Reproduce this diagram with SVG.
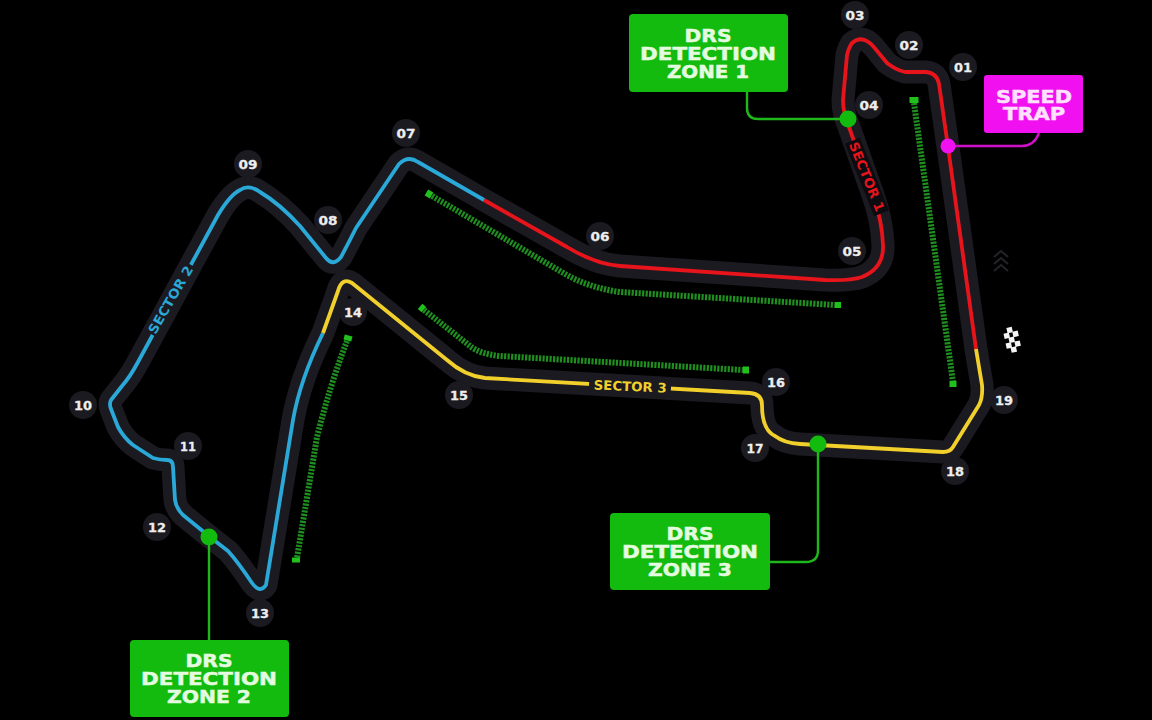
<svg xmlns="http://www.w3.org/2000/svg" width="1152" height="720" viewBox="0 0 1152 720">
<style>
.bed{fill:none;stroke:#1b1a21;stroke-width:23;stroke-linejoin:round;stroke-linecap:round}
.line{fill:none;stroke-width:3.800;stroke-linejoin:round;stroke-linecap:butt}
.red{stroke:#e8141c}.blue{stroke:#2aa9d8}.yel{stroke:#f2d02c}
.drs{fill:none;stroke:#1f8f1f;stroke-width:6;stroke-dasharray:2.200 1.300}
.cap{fill:#22c01c}
.badge circle{fill:#1b1a21}
.badge text{font:bold 13px "DejaVu Sans",sans-serif;fill:#eeeeee;text-anchor:middle;stroke:#eeeeee;stroke-width:.3}
.box text{font:bold 18px "DejaVu Sans",sans-serif;fill:#e4fbe0;text-anchor:middle;stroke:#e4fbe0;stroke-width:.5}
.green rect{fill:#12bb0e}
.magenta rect{fill:#f010f0}
.magenta text{fill:#ffe0ff;stroke:#ffe0ff}
.sec{font:bold 13px "DejaVu Sans",sans-serif;text-anchor:middle}
.conn{fill:none;stroke-width:2.400}
</style>
<rect width="1152" height="720" fill="#000"/>
<g id="track">
<path class="bed" d="M976 349L948 147L939 84Q937 73 926 72L905 72Q896 70 887 63L873 46Q862 34 852 43Q849 47 847 55L843 100Q843 113 849 127L873 195Q882 220 883 245Q884 268 862 277Q850 281 825 280L620 266Q595 264 567 247L484 200L418 162Q408 155 399 164L356 228Q348 244 341 257Q333 267 326 258L300 226Q280 204 260 192Q249 184 240 190Q230 195 218 215L138 362Q130 377 122 386L111 400Q109 404 111 409L118 427Q124 438 133 445L153 458Q160 460 167 460Q173 460 173 467L175 500Q176 508 183 515L210 537L228 551Q238 562 252 583Q260 594 266 585L293 420Q300 380 323 333L338 291Q342 277 352 283L447 360Q465 376 485 378L750 393Q762 394 762 405Q762 430 775 436Q784 443 800 444L943 452Q950 452 953 447L979 405Q983 397 982 385Z"/>
<path class="line red" d="M976 349L948 147L939 84Q937 73 926 72L905 72Q896 70 887 63L873 46Q862 34 852 43Q849 47 847 55L843 100Q843 113 849 127L873 195Q882 220 883 245Q884 268 862 277Q850 281 825 280L620 266Q595 264 567 247L484 200"/>
<path class="line blue" d="M484 200L418 162Q408 155 399 164L356 228Q348 244 341 257Q333 267 326 258L300 226Q280 204 260 192Q249 184 240 190Q230 195 218 215L138 362Q130 377 122 386L111 400Q109 404 111 409L118 427Q124 438 133 445L153 458Q160 460 167 460Q173 460 173 467L175 500Q176 508 183 515L210 537L228 551Q238 562 252 583Q260 594 266 585L293 420Q300 380 323 333"/>
<path class="line yel" d="M323 333L338 291Q342 277 352 283L447 360Q465 376 485 378L750 393Q762 394 762 405Q762 430 775 436Q784 443 800 444L943 452Q950 452 953 447L979 405Q983 397 982 385L976 349"/>
<rect x="-40" y="-8" width="80" height="16" fill="#1b1a21" transform="translate(172 300) rotate(-61)"/>
<text class="sec" fill="#2aa9d8" transform="translate(174.500 302) rotate(-60)" textLength="76" lengthAdjust="spacingAndGlyphs">SECTOR 2</text>
<rect x="-41" y="-8" width="82" height="16" fill="#1b1a21" transform="translate(630 386) rotate(3.500)"/>
<text class="sec" fill="#f2d02c" transform="translate(630 391) rotate(2.500)" textLength="73" lengthAdjust="spacingAndGlyphs">SECTOR 3</text>
<rect x="-39" y="-8" width="78" height="16" fill="#0c0b10" transform="translate(867 177) rotate(68)"/>
<text class="sec" fill="#e8141c" transform="translate(862.500 178.500) rotate(68)" textLength="74" lengthAdjust="spacingAndGlyphs">SECTOR 1</text>
</g>
<g id="drs-zones">
<path class="drs" d="M914 103L953 382"/><rect class="cap" x="-4.500" y="-3" width="9" height="6" transform="translate(914 100)"/><rect class="cap" x="-3.500" y="-3" width="7" height="6" transform="translate(953 384)"/>
<path class="drs" d="M432 196L565 274Q590 288 620 292L835 305"/><rect class="cap" x="-3.500" y="-3" width="7" height="6" transform="translate(429 194) rotate(-60)"/><rect class="cap" x="-3" y="-3" width="6" height="6" transform="translate(838 305)"/>
<path class="drs" d="M424 310L470 346Q480 354 500 356L743 370"/><rect class="cap" x="-3.500" y="-2.500" width="7" height="5" transform="translate(422 308) rotate(-50)"/><rect class="cap" x="-3" y="-3.500" width="6" height="7" transform="translate(746 370)"/>
<path class="drs" d="M347 341Q330 385 317 437L297 558"/><rect class="cap" x="-4" y="-2.500" width="8" height="5" transform="translate(348 338) rotate(15)"/><rect class="cap" x="-4" y="-2.500" width="8" height="5" transform="translate(296 560)"/>
</g>
<g id="connectors">
<path class="conn" stroke="#1fb81a" d="M747 92V108Q747 119 758 119H848"/>
<path class="conn" stroke="#1fb81a" d="M209 537V640"/>
<path class="conn" stroke="#1fb81a" d="M818 444V550Q818 562 806 562H770"/>
<path class="conn" stroke="#d010c8" d="M948 146H1022Q1034 146 1039 133"/>
</g>
<g id="markers">
<circle cx="848" cy="119" r="8.500" fill="#12bb0e"/>
<circle cx="209" cy="537" r="8.500" fill="#12bb0e"/>
<circle cx="818" cy="444" r="8.500" fill="#12bb0e"/>
<circle cx="948" cy="146" r="7.500" fill="#f010f0"/>
</g>
<g id="chevrons" fill="none" stroke="#242428" stroke-width="2">
<path d="M994 257L1001 251L1008 257"/><path d="M994 264L1001 258L1008 264"/><path d="M994 271L1001 265L1008 271"/>
</g>
<g id="flag" fill="#f4f4f4">
<g transform="translate(1012 340) rotate(-12)">
<rect x="-3" y="-13" width="5.500" height="5.500"/><rect x="-7" y="-8" width="5.500" height="5.500"/><rect x="2" y="-8" width="5.500" height="5.500"/><rect x="-3" y="-3" width="5.500" height="5.500"/><rect x="-7" y="2" width="5.500" height="5.500"/><rect x="2" y="2" width="5.500" height="5.500"/><rect x="-3" y="7" width="5.500" height="5.500"/>
</g>
</g>
<g id="turn-01" class="badge"><circle cx="963" cy="67" r="14"/><text x="963" y="72" textLength="18" lengthAdjust="spacingAndGlyphs">01</text></g>
<g id="turn-02" class="badge"><circle cx="909" cy="45" r="14"/><text x="909" y="50" textLength="19" lengthAdjust="spacingAndGlyphs">02</text></g>
<g id="turn-03" class="badge"><circle cx="855" cy="15" r="14"/><text x="855" y="20" textLength="19" lengthAdjust="spacingAndGlyphs">03</text></g>
<g id="turn-04" class="badge"><circle cx="869" cy="105" r="14"/><text x="869" y="110" textLength="19" lengthAdjust="spacingAndGlyphs">04</text></g>
<g id="turn-05" class="badge"><circle cx="852" cy="251" r="14"/><text x="852" y="256" textLength="19" lengthAdjust="spacingAndGlyphs">05</text></g>
<g id="turn-06" class="badge"><circle cx="600" cy="236" r="14"/><text x="600" y="241" textLength="19" lengthAdjust="spacingAndGlyphs">06</text></g>
<g id="turn-07" class="badge"><circle cx="406" cy="133" r="14"/><text x="406" y="138" textLength="19" lengthAdjust="spacingAndGlyphs">07</text></g>
<g id="turn-08" class="badge"><circle cx="328" cy="220" r="14"/><text x="328" y="225" textLength="19" lengthAdjust="spacingAndGlyphs">08</text></g>
<g id="turn-09" class="badge"><circle cx="248" cy="164" r="14"/><text x="248" y="169" textLength="19" lengthAdjust="spacingAndGlyphs">09</text></g>
<g id="turn-10" class="badge"><circle cx="83" cy="405" r="14"/><text x="83" y="410" textLength="18" lengthAdjust="spacingAndGlyphs">10</text></g>
<g id="turn-11" class="badge"><circle cx="188" cy="446" r="14"/><text x="188" y="451" textLength="16" lengthAdjust="spacingAndGlyphs">11</text></g>
<g id="turn-12" class="badge"><circle cx="157" cy="527" r="14"/><text x="157" y="532" textLength="18" lengthAdjust="spacingAndGlyphs">12</text></g>
<g id="turn-13" class="badge"><circle cx="260" cy="613" r="14"/><text x="260" y="618" textLength="18" lengthAdjust="spacingAndGlyphs">13</text></g>
<g id="turn-14" class="badge"><circle cx="353" cy="312" r="14"/><text x="353" y="317" textLength="18" lengthAdjust="spacingAndGlyphs">14</text></g>
<g id="turn-15" class="badge"><circle cx="459" cy="395" r="14"/><text x="459" y="400" textLength="18" lengthAdjust="spacingAndGlyphs">15</text></g>
<g id="turn-16" class="badge"><circle cx="776" cy="382" r="14"/><text x="776" y="387" textLength="18" lengthAdjust="spacingAndGlyphs">16</text></g>
<g id="turn-17" class="badge"><circle cx="755" cy="448" r="14"/><text x="755" y="453" textLength="17" lengthAdjust="spacingAndGlyphs">17</text></g>
<g id="turn-18" class="badge"><circle cx="955" cy="471" r="14"/><text x="955" y="476" textLength="18" lengthAdjust="spacingAndGlyphs">18</text></g>
<g id="turn-19" class="badge"><circle cx="1004" cy="400" r="14"/><text x="1004" y="405" textLength="18" lengthAdjust="spacingAndGlyphs">19</text></g>
<g id="drs-zone-1" class="box green"><rect x="629" y="14" width="159" height="78" rx="4"/>
<text><tspan x="708" y="42" textLength="47" lengthAdjust="spacingAndGlyphs">DRS</tspan><tspan x="708" y="60" textLength="136" lengthAdjust="spacingAndGlyphs">DETECTION</tspan><tspan x="708" y="78" textLength="82" lengthAdjust="spacingAndGlyphs">ZONE 1</tspan></text></g>
<g id="drs-zone-2" class="box green"><rect x="130" y="640" width="159" height="77" rx="4"/>
<text><tspan x="209" y="667" textLength="47" lengthAdjust="spacingAndGlyphs">DRS</tspan><tspan x="209" y="685" textLength="136" lengthAdjust="spacingAndGlyphs">DETECTION</tspan><tspan x="209" y="703" textLength="84" lengthAdjust="spacingAndGlyphs">ZONE 2</tspan></text></g>
<g id="drs-zone-3" class="box green"><rect x="610" y="513" width="160" height="77" rx="4"/>
<text><tspan x="690" y="540" textLength="47" lengthAdjust="spacingAndGlyphs">DRS</tspan><tspan x="690" y="558" textLength="136" lengthAdjust="spacingAndGlyphs">DETECTION</tspan><tspan x="690" y="576" textLength="84" lengthAdjust="spacingAndGlyphs">ZONE 3</tspan></text></g>
<g id="speed-trap" class="box magenta"><rect x="984" y="75" width="99" height="58" rx="3"/>
<text><tspan x="1034" y="103" textLength="76" lengthAdjust="spacingAndGlyphs">SPEED</tspan><tspan x="1034" y="120" textLength="62" lengthAdjust="spacingAndGlyphs">TRAP</tspan></text></g>
</svg>
